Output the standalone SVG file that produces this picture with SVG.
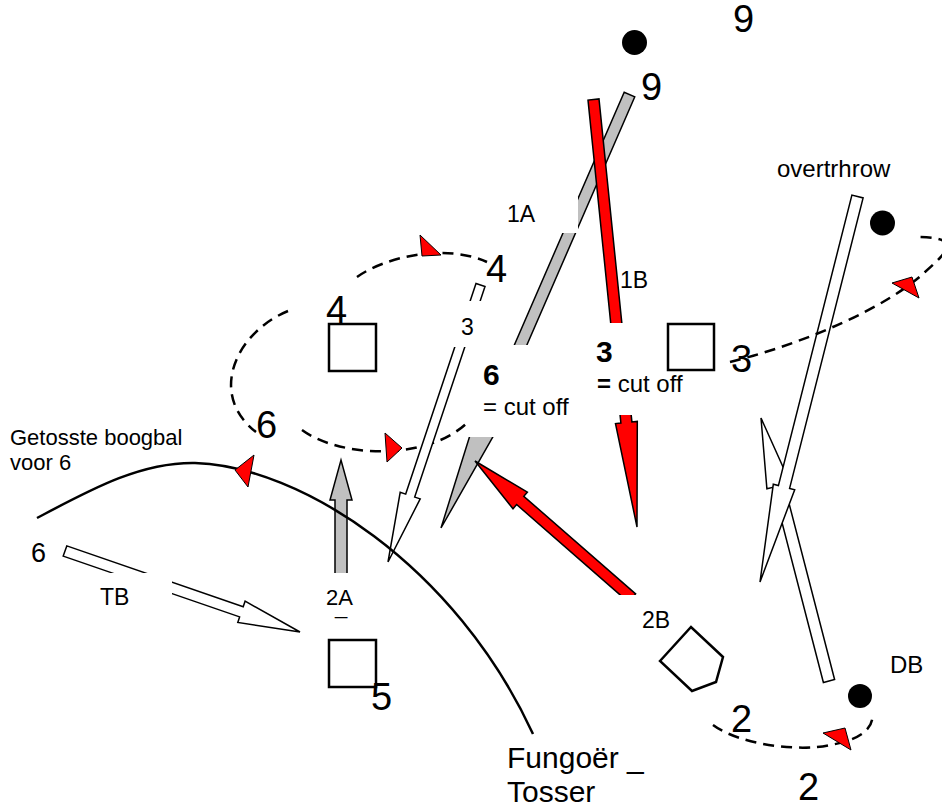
<svg xmlns="http://www.w3.org/2000/svg" width="942" height="807" viewBox="0 0 942 807">
  <style>
    .bg { fill: #ffffff; }
    .lbl { font-family: "Liberation Sans", Arial, sans-serif; fill: #000; }
    .s { font-size: 23px; }
    .m { font-size: 24px; }
    .big { font-size: 38px; }
    .b { font-weight: bold; }
    .dash { fill: none; stroke: #000; stroke-width: 2.5; stroke-dasharray: 11 7; }
    .curve { fill: none; stroke: #000; stroke-width: 2.5; }
    .red { fill: #ff0000; stroke: #000; stroke-width: 1.5; stroke-linejoin: miter; }
    .grey { fill: #c0c0c0; stroke: #000; stroke-width: 1.5; }
    .hollow { fill: #ffffff; stroke: #000; stroke-width: 1.5; }
    .tri { fill: #ff0000; stroke: #000; stroke-width: 1; }
    .base { fill: #ffffff; stroke: #000; stroke-width: 2.5; }
    .dot { fill: #000; }
    .mask { fill: #ffffff; stroke: none; }
  </style>
  <rect class="bg" x="0" y="0" width="942" height="807"/>

  <!-- running paths of the fielders (dashed) -->
  <g id="runs-under">
    <path class="dash" d="M357,277 C385,257 445,243 487,262"/>
    <path class="dash" d="M288,311 C235,333 208,395 256,432"/>
    <path class="dash" d="M302,430 C340,458 430,462 470,420"/>
  </g>

  <g id="connectors">
    <!-- 2A: short grey throw -->
    <polygon class="grey" points="335,598 335,500 330,500 341,460 352,500 347,500 347,598"/>
    <!-- 1A: long grey throw -->
    <polygon class="grey" points="634.8,96.8 498.1,411.1 505.7,414.4 441,528 480,403.2 487.6,406.5 624.2,92.2"/>
    <!-- 1B: red throw down to 3 -->
    <polygon class="red" points="599,98.9 631.9,421.9 637.3,421.4 637,527 615.5,423.6 620.9,423.1 588,100.1"/>
    <!-- 2B: red throw to 6 -->
    <polygon class="red" points="635.6,593.9 523.8,496.3 527.4,492.1 475,461 513,508.7 516.6,504.5 628.4,602.1"/>
    <!-- 3: hollow throw -->
    <polygon class="hollow" points="485,286.5 414.7,497.1 420.2,498.9 388,562 400.2,492.3 405.7,494.1 476,283.5"/>
    <!-- TB -->
    <polygon class="hollow" points="63.2,556.1 239.6,616.9 237.8,622.4 300,632 245.1,601.2 243.2,606.7 66.8,545.9"/>
    <!-- DB back up -->
    <polygon class="hollow" points="834.6,679.5 784.1,484.3 790.1,482.8 761,418 766.9,488.8 772.9,487.3 823.4,682.5"/>
    <!-- overthrow down -->
    <polygon class="hollow" points="863.1,197.9 789.6,488.4 794.7,489.7 760,582 773.3,484.3 778.4,485.6 851.9,195.1"/>

    <!-- lobbed ball -->
    <path class="curve" d="M37,518 C90,490 140,462 195,463 C300,466 455,565 533,734"/>
    <!-- dashed runs on top -->
    <path class="dash" d="M730,362 C810,342 890,305 925,272 C950,250 960,238 920,237"/>
    <path class="dash" d="M713,725 C740,745 800,752 830,745 C860,740 875,728 872,713"/>

    <!-- direction markers -->
    <polygon class="tri" points="420,235 441,255 422,256"/>
    <polygon class="tri" points="385,433 402,448 387,462"/>
    <polygon class="tri" points="892,283 912,277 919,298"/>
    <polygon class="tri" points="823,733 845,728 851,750"/>
    <polygon class="tri" points="235,470 254,455 248,487"/>
  </g>

  <!-- label backgrounds and labels -->
  <g id="label-1A">
    <rect class="mask" x="488" y="197" width="90" height="36"/>
    <text class="lbl s" x="507" y="222">1A</text>
  </g>
  <g id="label-1B">
    <text class="lbl s" x="620" y="288">1B</text>
  </g>
  <g id="label-3-throw">
    <rect class="mask" x="447" y="301" width="37" height="46"/>
    <text class="lbl s" x="461" y="335">3</text>
  </g>
  <g id="label-6-cutoff">
    <rect class="mask" x="467" y="345" width="110" height="92"/>
    <text class="lbl b" x="483" y="385" font-size="30">6</text>
    <text class="lbl m" x="483" y="415">= cut off</text>
  </g>
  <g id="label-3-cutoff">
    <rect class="mask" x="590" y="323" width="76" height="92"/>
    <text class="lbl b" x="596" y="362" font-size="30">3</text>
    <text class="lbl m" x="597" y="392"><tspan font-weight="bold">=</tspan> cut off</text>
  </g>
  <g id="label-TB">
    <rect class="mask" x="92" y="573" width="80" height="40"/>
    <text class="lbl s" x="100" y="605">TB</text>
  </g>
  <g id="label-2A">
    <rect class="mask" x="318" y="573" width="45" height="50"/>
    <text class="lbl" x="326" y="605" font-size="22">2A</text>
    <text class="lbl" x="335" y="614" font-size="22">_</text>
  </g>
  <g id="label-2B">
    <rect class="mask" x="600" y="595" width="80" height="38"/>
    <text class="lbl s" x="642" y="628">2B</text>
  </g>

  <!-- fielders -->
  <g id="fielder-9">
    <circle class="dot" cx="634.5" cy="42.5" r="12.5"/>
    <text class="lbl big" x="733" y="32">9</text>
    <text class="lbl big" x="641" y="100">9</text>
  </g>
  <g id="fielder-overthrow">
    <circle class="dot" cx="882.5" cy="223" r="12.5"/>
    <text class="lbl m" x="777" y="177">overtrhrow</text>
  </g>
  <g id="base-4">
    <rect class="base" x="329" y="324" width="47" height="47"/>
    <text class="lbl big" x="326" y="323">4</text>
    <text class="lbl big" x="486" y="282">4</text>
  </g>
  <g id="base-3">
    <rect class="base" x="668" y="324" width="46" height="46"/>
    <text class="lbl big" x="731" y="372">3</text>
  </g>
  <g id="fielder-6">
    <text class="lbl big" x="256" y="438">6</text>
    <text class="lbl" x="31" y="562" font-size="27">6</text>
  </g>
  <g id="note-lob">
    <text class="lbl" x="10" y="445" font-size="22">Getosste boogbal</text>
    <text class="lbl" x="10" y="470" font-size="22">voor 6</text>
  </g>
  <g id="base-5">
    <rect class="base" x="329" y="640" width="47" height="47"/>
    <text class="lbl big" x="371" y="710">5</text>
  </g>
  <g id="home-2B">
    <polygon class="base" points="660,661 691,627 723,657 716,682 692,691"/>
  </g>
  <g id="fielder-DB">
    <circle class="dot" cx="860" cy="696" r="12"/>
    <text class="lbl m" x="890" y="673">DB</text>
  </g>
  <g id="catcher-2">
    <text class="lbl big" x="731" y="732">2</text>
    <text class="lbl big" x="798" y="800">2</text>
  </g>
  <g id="fungoer">
    <text class="lbl" x="507" y="768" font-size="30">Fungoër _</text>
    <text class="lbl" x="507" y="802" font-size="30">Tosser</text>
  </g>
</svg>
